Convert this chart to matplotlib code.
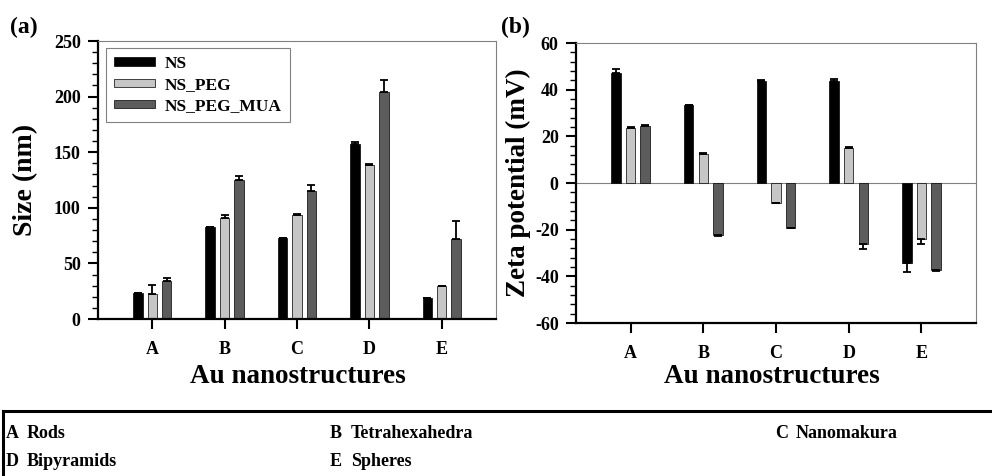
import matplotlib
matplotlib.use("Agg")
import matplotlib.pyplot as plt
import numpy as np
from matplotlib.patches import Rectangle
from matplotlib.ticker import MultipleLocator

plt.rcParams['font.family'] = ['Liberation Serif', 'DejaVu Serif']
plt.rcParams['font.weight'] = 'bold'
plt.rcParams['axes.unicode_minus'] = False

categories = ['A', 'B', 'C', 'D', 'E']
series_names = ['NS', 'NS_PEG', 'NS_PEG_MUA']

size_ns = [23, 83, 73, 157, 18.5]
size_ns_err = [0, 0, 0, 2, 0]
size_peg = [22.5, 90.5, 93.5, 138.5, 29.5]
size_peg_err = [8.5, 3, 0.5, 1, 0.5]
size_mua = [34.5, 125, 115.5, 204.5, 72]
size_mua_err = [2.5, 3.5, 5, 10, 16.5]

zeta_ns = [47.3, 33.4, 43.6, 43.7, -34.3]
zeta_ns_err = [1.6, 0.2, 0.5, 1.0, 3.8]
zeta_peg = [23.6, 12.4, -8.4, 15.0, -24.0]
zeta_peg_err = [0.5, 0.3, 0.3, 0.3, 2.0]
zeta_mua = [24.4, -22.4, -19.1, -26.0, -37.4]
zeta_mua_err = [0.3, 0.3, 0.3, 2.3, 0.3]

legend_keys = ['A', 'B', 'C', 'D', 'E']
legend_names = ['Rods', 'Tetrahexahedra', 'Nanomakura', 'Bipyramids', 'Spheres']

colors = ['#000000', '#c6c6c6', '#5c5c5c']

W, H = 992, 476
fig = plt.figure(figsize=(W / 100, H / 100), dpi=100)

def ax_px(l, t, r, b):
    return fig.add_axes([l / W, 1 - b / H, (r - l) / W, (b - t) / H])

def style(ax):
    for s in ['top', 'right']:
        ax.spines[s].set_color('#808080')
        ax.spines[s].set_linewidth(0.8)
    for s in ['left', 'bottom']:
        ax.spines[s].set_color('black')
        ax.spines[s].set_linewidth(1.6)
    ax.tick_params(axis='y', which='major', direction='out', length=7.5, width=1.5, labelsize=13, pad=5)
    ax.tick_params(axis='y', which='minor', direction='out', length=4, width=1.0)
    ax.tick_params(axis='x', which='major', direction='out', length=7, width=1.5, labelsize=13, pad=9)
    ax.tick_params(axis='x', which='minor', bottom=False)
    for lab in ax.get_xticklabels() + ax.get_yticklabels():
        lab.set_fontweight('bold')

x = np.arange(1, len(categories) + 1)
offs = [-0.2, 0.0, 0.2]
bw = 0.13

def draw(ax, vals, errs):
    for i, (v, e) in enumerate(zip(vals, errs)):
        v = np.array(v, float)
        e = np.array(e, float)
        lower = np.where(v < 0, e, 0)
        upper = np.where(v >= 0, e, 0)
        ax.bar(x + offs[i], v, bw, color=colors[i], edgecolor='black', linewidth=0.5,
               label=series_names[i], zorder=2)
        ax.errorbar(x + offs[i], v, yerr=[lower, upper], fmt='none', ecolor='black',
                    elinewidth=1.3, capsize=3, capthick=1.3, zorder=3)

# Panel (a)
ax1 = ax_px(98, 41, 496, 319)
draw(ax1, [size_ns, size_peg, size_mua], [size_ns_err, size_peg_err, size_mua_err])
ax1.set_xlim(0.25, 5.75)
ax1.set_ylim(0, 250)
ax1.yaxis.set_major_locator(MultipleLocator(50))
ax1.yaxis.set_minor_locator(MultipleLocator(10))
ax1.set_xticks(x)
ax1.set_xticklabels(categories)
ax1.set_ylabel('Size (nm)', fontsize=20, fontweight='bold')
ax1.yaxis.set_label_coords(-0.150, 0.5)
ax1.set_xlabel('Au nanostructures', fontsize=19.5, fontweight='bold')
ax1.xaxis.set_label_coords(0.5025, -0.163)
style(ax1)
leg = ax1.legend(loc='upper left', bbox_to_anchor=(0.02, 0.975), frameon=True,
                 fancybox=False, edgecolor='#606060', handlelength=2.4, handleheight=0.35,
                 labelspacing=0.3, borderpad=0.45, handletextpad=0.55, borderaxespad=0.0,
                 prop={'weight': 'bold', 'size': 12.5})
leg.get_frame().set_linewidth(0.8)

# Panel (b)
ax2 = ax_px(576, 43, 976, 323)
draw(ax2, [zeta_ns, zeta_peg, zeta_mua], [zeta_ns_err, zeta_peg_err, zeta_mua_err])
ax2.axhline(0, color='#808080', linewidth=0.8, zorder=1)
ax2.set_xlim(0.25, 5.75)
ax2.set_ylim(-60, 60)
ax2.yaxis.set_major_locator(MultipleLocator(20))
ax2.yaxis.set_minor_locator(MultipleLocator(4))
ax2.set_xticks(x)
ax2.set_xticklabels(categories)
ax2.set_ylabel('Zeta potential (mV)', fontsize=19.5, fontweight='bold')
ax2.yaxis.set_label_coords(-0.112, 0.5)
ax2.set_xlabel('Au nanostructures', fontsize=19.5, fontweight='bold')
ax2.xaxis.set_label_coords(0.49, -0.148)
style(ax2)

fig.text(10 / W, 1 - 27 / H, '(a)', fontsize=17, fontweight='bold', va='center', ha='left')
fig.text(501 / W, 1 - 27 / H, '(b)', fontsize=17, fontweight='bold', va='center', ha='left')

# Bottom key box
fig.patches.append(Rectangle((3 / W, -0.05), 1.0, (476 - 411) / H + 0.05, transform=fig.transFigure,
                             fill=False, edgecolor='black', linewidth=2.2))
col_x = [6, 330, 775]
key_y = [433, 462]
for k, (key, name) in enumerate(zip(legend_keys, legend_names)):
    r, c = divmod(k, 3)
    fig.text(col_x[c] / W, 1 - key_y[r] / H, key, fontsize=13, fontweight='bold', va='center', ha='left')
    fig.text((col_x[c] + 21) / W, 1 - key_y[r] / H, name, fontsize=13, fontweight='bold', va='center', ha='left')

fig.savefig('out.png', dpi=100)
